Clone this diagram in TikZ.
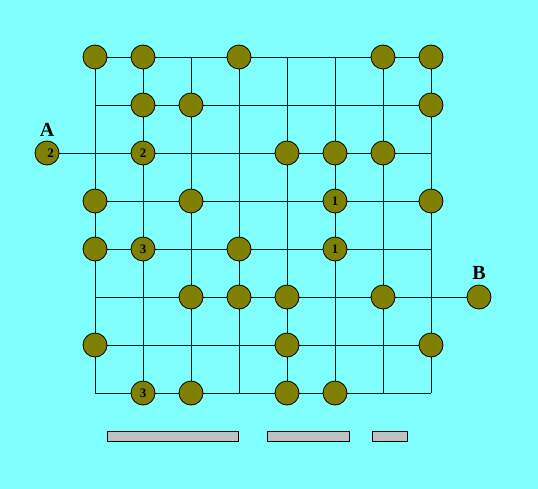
\documentclass[tikz,border=0pt]{standalone}
\usepackage{fontspec}
\setmainfont{Liberation Serif}
\definecolor{bgcyan}{RGB}{128,255,255}
\definecolor{olivedot}{RGB}{128,128,0}
\definecolor{bargray}{RGB}{192,192,192}
\begin{document}
\begin{tikzpicture}[x=1pt,y=-1pt,
  dot/.style={circle,draw=black,fill=olivedot,minimum size=24pt,inner sep=0pt,line width=0.8pt,font=\bfseries\fontsize{13}{13}\selectfont},
  wire/.style={line width=0.9pt},
  bar/.style={draw=black,fill=bargray,line width=0.9pt},
  letter/.style={font=\bfseries\fontsize{20}{20}\selectfont}]
\fill[bgcyan] (0,0) rectangle (538,489);
\useasboundingbox (0,0) rectangle (538,489);
\foreach \i in {0,...,7}
  \foreach \j in {0,...,7}
    \coordinate (g\i\j) at ({95+48*\i},{57+48*\j});
% grid
\foreach \j in {0,...,7} \draw[wire] (g0\j) -- (g7\j);
\foreach \i in {0,...,7} \draw[wire] (g\i0) -- (g\i7);
% end points
\node[dot] (A) at (47,153) {\hspace{7pt}2};
\node[dot] (B) at (479,297) {};
\draw[wire] (A) -- (g02);
\draw[wire] (g75) -- (B);
\node[letter] (lA) at (47,130) {A};
\node[letter] (lB) at (479,273) {B};
% dots
\foreach \p in {00,10,30,60,70, 11,21,71, 42,52,62, 03,23,73, 04,34, 25,35,45,65, 06,46,76, 27,47,57}
  \node[dot] (d\p) at (g\p) {};
\node[dot] (d12) at (g12) {2\hspace{6pt}};
\node[dot] (d53) at (g53) {1};
\node[dot] (d14) at (g14) {3};
\node[dot] (d54) at (g54) {1};
\node[dot] (d17) at (g17) {3};
% bars
\draw[bar] (107,431) rectangle (238,441);
\draw[bar] (267,431) rectangle (349,441);
\draw[bar] (372,431) rectangle (407,441);
\end{tikzpicture}
\end{document}
